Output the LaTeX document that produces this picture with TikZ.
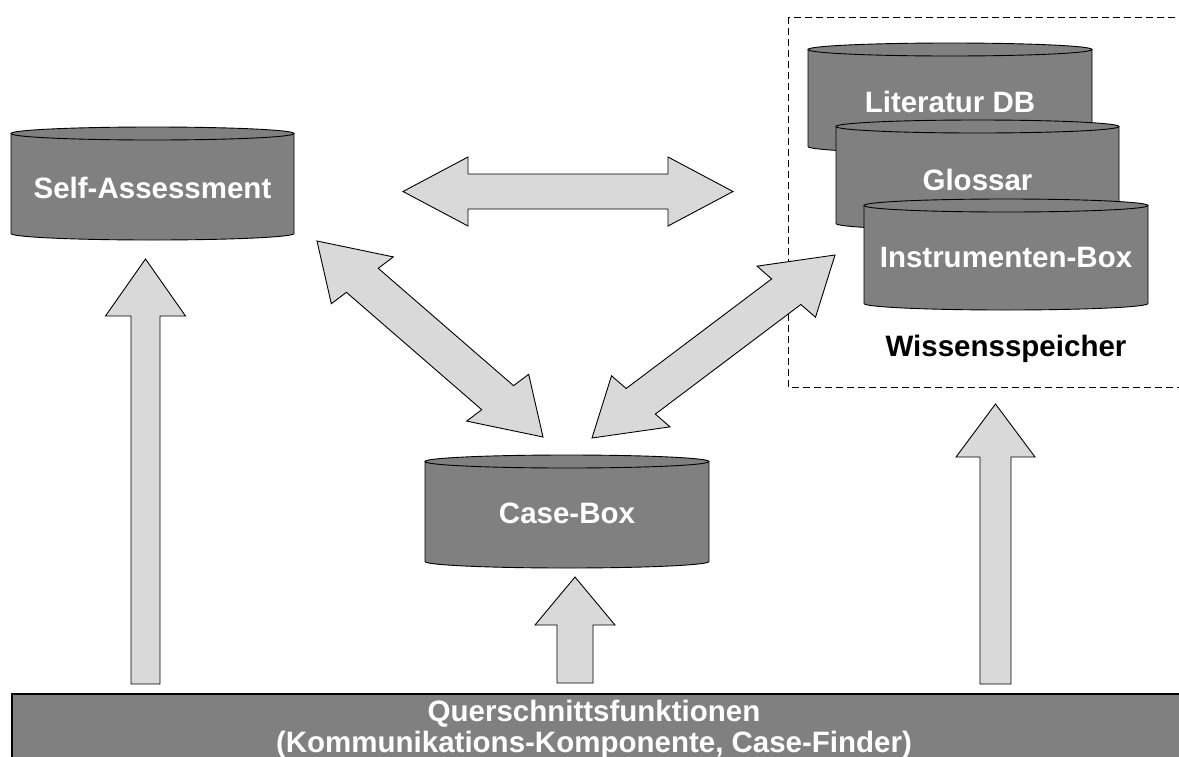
\documentclass[tikz,border=0pt]{standalone}
\usepackage{fontspec}
\setmainfont{Liberation Sans}
\usetikzlibrary{calc}

\definecolor{dbgray}{HTML}{808080}
\definecolor{arrowgray}{HTML}{D9D9D9}

\tikzset{
  dbbody/.style={fill=dbgray},
  dbedge/.style={draw=black, line width=0.9pt},
  dblabel/.style={text=white, font=\fontsize{29.5}{30}\selectfont\bfseries, anchor=base, inner sep=0pt},
  storelabel/.style={text=black, font=\fontsize{29.5}{30}\selectfont\bfseries, anchor=base, inner sep=0pt},
  blockarrow/.style={fill=arrowgray, draw=black, line width=0.9pt, line join=miter},
  storebox/.style={draw=black, dash pattern=on 7pt off 4pt, line width=0.8pt},
  barbox/.style={fill=dbgray, draw=black, line width=1.3pt},
}

% database cylinder: name, left x, right x, top y, bottom y, label, label baseline
\newcommand\dbcylinder[7]{%
  \pgfmathsetmacro\cylcx{(#2+#3)/2}%
  \pgfmathsetmacro\cylrx{(#3-#2)/2}%
  \pgfmathsetmacro\cylyt{#4+6.5}%
  \pgfmathsetmacro\cylyb{#5-6.5}%
  \fill[dbbody] (#2,\cylyt) -- (#2,\cylyb)
    arc[start angle=180, end angle=0, x radius=\cylrx, y radius=6.5] -- (#3,\cylyt) -- cycle;
  \draw[dbedge] (#2,\cylyt) -- (#2,\cylyb)
    arc[start angle=180, end angle=0, x radius=\cylrx, y radius=6.5] -- (#3,\cylyt);
  \filldraw[dbbody, dbedge] (\cylcx,\cylyt) ellipse[x radius=\cylrx, y radius=6.5];
  \node[dblabel] (#1) at (\cylcx,#7) {#6};
}

% direction and length between two named points
\newcommand\arrowframe[2]{%
  \path let \p1=($(#2)-(#1)$) in \pgfextra{%
    \pgfmathsetmacro\barang{atan2(\y1,\x1)}%
    \pgfmathsetmacro\barlen{veclen(\x1,\y1)}%
    \global\let\barang\barang
    \global\let\barlen\barlen};
}

% double block arrow: tip A, tip B, head length, head half width, shaft half width, shear
\newcommand\blockdouble[6]{%
  \arrowframe{#1}{#2}%
  \filldraw[blockarrow, x=1pt, y=1pt, shift={(#1)}, rotate=\barang, cm={1,0,#6,1,(0,0)}]
    (0,0) -- (#3,#4) -- (#3,#5) -- ({\barlen-#3},#5) -- ({\barlen-#3},#4) -- (\barlen,0)
    -- ({\barlen-#3},-#4) -- ({\barlen-#3},-#5) -- (#3,-#5) -- (#3,-#4) -- cycle;
}

% single block arrow: tip, tail, head length, head half width, shaft half width
\newcommand\blocksingle[5]{%
  \arrowframe{#1}{#2}%
  \filldraw[blockarrow, x=1pt, y=1pt, shift={(#1)}, rotate=\barang]
    (0,0) -- (#3,#4) -- (#3,#5) -- (\barlen,#5) -- (\barlen,-#5)
    -- (#3,-#5) -- (#3,-#4) -- cycle;
}

\begin{document}
\begin{tikzpicture}[x=1pt, y=-1pt]
  \useasboundingbox (0,0) rectangle (1179,756);

  % knowledge store frame
  \draw[storebox] (788,17) rectangle (1200,387);

  % databases
  \dbcylinder{sa}{11}{294}{127}{240}{Self-Assessment}{198}
  \dbcylinder{cb}{425}{709}{455}{568}{Case-Box}{523}
  \dbcylinder{lit}{808}{1092}{43}{153}{Literatur DB}{112}
  \dbcylinder{glo}{836}{1119}{120}{230}{Glossar}{190}
  \dbcylinder{ins}{864}{1148}{199}{310}{Instrumenten-Box}{267}

  \node[storelabel] (ws) at (1006,356) {Wissensspeicher};

  % cross-cutting functions bar
  \draw[barbox] (12,694) rectangle (1200,780);
  \node[dblabel] (qf) at (594,721) {Querschnittsfunktionen};
  \node[dblabel] (qfsub) at (594,752) {(Kommunikations-Komponente, Case-Finder)};

  % arrow end points
  \coordinate (hzL) at (403,191.5);
  \coordinate (hzR) at (733,191.5);
  \coordinate (dlA) at (317,241);
  \coordinate (dlB) at (543,437);
  \coordinate (drA) at (835,255);
  \coordinate (drB) at (592,438);
  \coordinate (saTip) at (145.5,259);
  \coordinate (saTail) at (145.5,684);
  \coordinate (cbTip) at (575,577);
  \coordinate (cbTail) at (575,683);
  \coordinate (wsTip) at (995.5,404);
  \coordinate (wsTail) at (995.5,684);

  % exchanges between the components
  \blockdouble{hzL}{hzR}{65}{34.5}{17.5}{0}
  \blockdouble{dlA}{dlB}{60}{38}{19.5}{0.213}
  \blockdouble{drA}{drB}{61}{38}{19}{-0.21}

  % supply from the cross-cutting functions
  \blocksingle{saTip}{saTail}{57}{40}{14.5}
  \blocksingle{cbTip}{cbTail}{48}{40}{18}
  \blocksingle{wsTip}{wsTail}{53}{39.5}{15.5}
\end{tikzpicture}
\end{document}
